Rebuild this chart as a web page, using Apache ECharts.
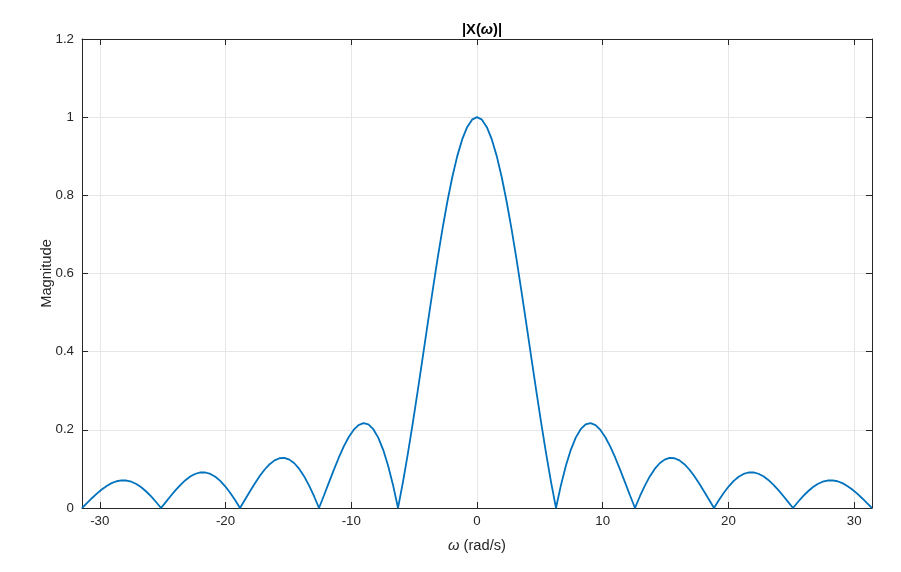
<!DOCTYPE html>
<html>
<head>
<meta charset="utf-8">
<script src="https://cdn.jsdelivr.net/npm/echarts@6/dist/echarts.min.js"></script>
<style>html,body{margin:0;padding:0;background:#fff}#c{width:901px;height:572px}</style>
</head>
<body>
<div id="c"></div>
<script>
// omega (rad/s) samples, negative half then positive half
const omegaNeg = [-31.416,-31.023,-30.631,-30.238,-29.845,-29.452,-29.060,-28.667,-28.274,-27.882,-27.489,-27.096,-26.704,-26.311,-25.918,-25.525,-25.133,-24.740,-24.347,-23.955,-23.562,-23.169,-22.777,-22.384,-21.991,-21.598,-21.206,-20.813,-20.420,-20.028,-19.635,-19.242,-18.850,-18.457,-18.064,-17.671,-17.279,-16.886,-16.493,-16.101,-15.708,-15.315,-14.923,-14.530,-14.137,-13.744,-13.352,-12.959,-12.566,-12.174,-11.781,-11.388,-10.996,-10.603,-10.210,-9.817,-9.425,-9.032,-8.639,-8.247,-7.854,-7.461,-7.069,-6.676,-6.283,-5.890,-5.498,-5.105,-4.712,-4.320,-3.927,-3.534,-3.142,-2.749,-2.356,-1.963,-1.571,-1.178,-0.785,-0.393];
const magNeg = [0,0.01258,0.02499,0.03675,0.04739,0.05646,0.06358,0.06843,0.07074,0.07035,0.06722,0.06137,0.05296,0.04223,0.02953,0.01529,0,0.01577,0.03144,0.04638,0.06002,0.07178,0.08113,0.08763,0.09095,0.09082,0.08713,0.07990,0.06926,0.05548,0.03898,0.02028,0,0.02114,0.04237,0.06288,0.08185,0.09848,0.11203,0.12183,0.12732,0.12808,0.12382,0.11445,0.10004,0.08084,0.05732,0.03011,0,0.03205,0.06497,0.09757,0.12862,0.15684,0.18097,0.19980,0.21221,0.21718,0.21388,0.20165,0.18006,0.14892,0.10828,0.05845,0,0.06624,0.13921,0.21765,0.30011,0.38497,0.47053,0.55501,0.63662,0.71359,0.78421,0.84693,0.90032,0.94316,0.97450,0.99359];
const omegaPos = [0,0.393,0.785,1.178,1.571,1.963,2.356,2.749,3.142,3.534,3.927,4.320,4.712,5.105,5.498,5.890,6.283,6.676,7.069,7.461,7.854,8.247,8.639,9.032,9.425,9.817,10.210,10.603,10.996,11.388,11.781,12.174,12.566,12.959,13.352,13.744,14.137,14.530,14.923,15.315,15.708,16.101,16.493,16.886,17.279,17.671,18.064,18.457,18.850,19.242,19.635,20.028,20.420,20.813,21.206,21.598,21.991,22.384,22.777,23.169,23.562,23.955,24.347,24.740,25.133,25.525,25.918,26.311,26.704,27.096,27.489,27.882,28.274,28.667,29.060,29.452,29.845,30.238,30.631,31.023,31.416];
const magPos = [1,0.99359,0.97450,0.94316,0.90032,0.84693,0.78421,0.71359,0.63662,0.55501,0.47053,0.38497,0.30011,0.21765,0.13921,0.06624,0,0.05845,0.10828,0.14892,0.18006,0.20165,0.21388,0.21718,0.21221,0.19980,0.18097,0.15684,0.12862,0.09757,0.06497,0.03205,0,0.03011,0.05732,0.08084,0.10004,0.11445,0.12382,0.12808,0.12732,0.12183,0.11203,0.09848,0.08185,0.06288,0.04237,0.02114,0,0.02028,0.03898,0.05548,0.06926,0.07990,0.08713,0.09082,0.09095,0.08763,0.08113,0.07178,0.06002,0.04638,0.03144,0.01577,0,0.01529,0.02953,0.04223,0.05296,0.06137,0.06722,0.07035,0.07074,0.06843,0.06358,0.05646,0.04739,0.03675,0.02499,0.01258,0];
const xTicks = [-30,-20,-10,0,10,20,30];
const yTicks = [0,0.2,0.4,0.6,0.8,1,1.2];

const omega = omegaNeg.concat(omegaPos);
const mag = magNeg.concat(magPos);
const data = omega.map((w,i)=>[w,mag[i]]);

const font = 'Liberation Sans, Arial, Helvetica, sans-serif';
const axisCol = '#262626';
const gridCol = '#e6e6e6';
const XMIN = -31.416, XMAX = 31.416;
const TICKF = 13.3, LABF = 14.7;

const chart = echarts.init(document.getElementById('c'), null, {renderer:'canvas'});
chart.setOption({
  animation:false,
  backgroundColor:'#fff',
  title:{
    text:'{b||X(}{i|ω}{b|)|}',
    left:477, top:17, textAlign:'center',
    textStyle:{
      rich:{
        b:{fontFamily:font,fontWeight:'bold',fontSize:LABF,color:'#000'},
        i:{fontFamily:font,fontStyle:'italic',fontSize:LABF,color:'#000'}
      }
    }
  },
  grid:{left:82,right:29,top:39,bottom:64,containLabel:false},
  xAxis:[{
    type:'value', min:XMIN, max:XMAX,
    position:'bottom',
    name:'{i|ω} (rad/s)', nameLocation:'middle', nameGap:30, nameMoveOverlap:false,
    nameTextStyle:{color:axisCol,fontFamily:font,fontSize:LABF,
      rich:{i:{fontStyle:'italic',fontFamily:font,fontSize:LABF,color:axisCol}}},
    axisLine:{show:true,onZero:false,lineStyle:{color:axisCol,width:1}},
    axisTick:{show:true,inside:true,length:6,lineStyle:{color:axisCol},customValues:xTicks},
    axisLabel:{color:axisCol,fontFamily:font,fontSize:TICKF,margin:7,customValues:xTicks},
    splitLine:{show:true,lineStyle:{color:gridCol,width:1}}
  },{
    type:'value', min:XMIN, max:XMAX,
    position:'top',
    axisLine:{show:true,onZero:false,lineStyle:{color:axisCol,width:1}},
    axisTick:{show:true,inside:true,length:6,lineStyle:{color:axisCol},customValues:xTicks},
    axisLabel:{show:false},
    splitLine:{show:false}
  }],
  yAxis:[{
    type:'value', min:0, max:1.2, interval:0.2,
    position:'left',
    name:'Magnitude', nameLocation:'middle', nameGap:28, nameRotate:90, nameMoveOverlap:false,
    nameTextStyle:{color:axisCol,fontFamily:font,fontSize:LABF},
    axisLine:{show:true,onZero:false,lineStyle:{color:axisCol,width:1}},
    axisTick:{show:true,inside:true,length:6,lineStyle:{color:axisCol},customValues:yTicks},
    axisLabel:{color:axisCol,fontFamily:font,fontSize:TICKF,margin:8,customValues:yTicks,
      formatter:v=>String(Math.round(v*10)/10)},
    splitLine:{show:true,lineStyle:{color:gridCol,width:1}}
  },{
    type:'value', min:0, max:1.2, interval:0.2,
    position:'right',
    axisLine:{show:true,onZero:false,lineStyle:{color:axisCol,width:1}},
    axisTick:{show:true,inside:true,length:6,lineStyle:{color:axisCol},customValues:yTicks},
    axisLabel:{show:false},
    splitLine:{show:false}
  }],
  series:[{
    type:'line', data:data, xAxisIndex:0, yAxisIndex:0,
    showSymbol:false, symbol:'none', smooth:false,
    lineStyle:{color:'#0072BD',width:1.8},
    clip:true
  }]
});
</script>
</body>
</html>
